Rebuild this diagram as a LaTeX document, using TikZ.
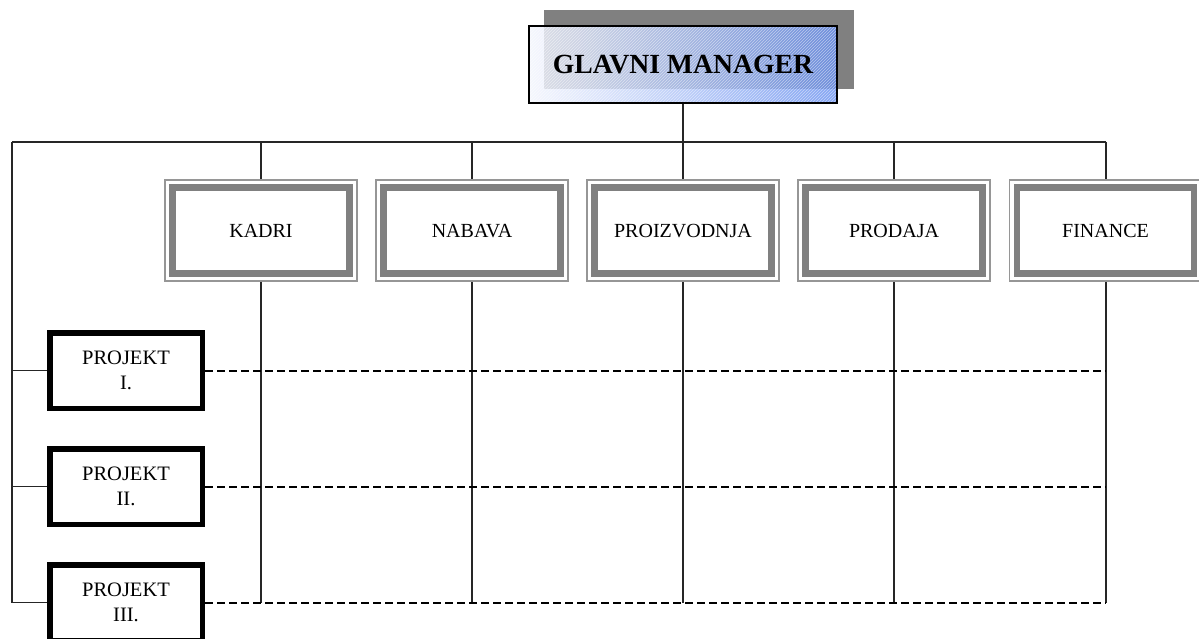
\documentclass[tikz,border=0pt]{standalone}
\usepackage{fontspec}
\setmainfont{Liberation Serif}
\usetikzlibrary{backgrounds,patterns}
\definecolor{frame}{RGB}{128,128,128}
\definecolor{frameline}{RGB}{150,150,150}
\definecolor{mgrlight}{RGB}{244,246,253}
\definecolor{mgrblue}{RGB}{104,144,240}
\definecolor{shadowgray}{RGB}{128,128,128}
\tikzset{
  x=1pt, y=-1pt,
  conn/.style={draw=black!85, line width=1.2pt},
  link/.style={draw=black, line width=2pt, dash pattern=on 8pt off 4pt},
  dept/.style={draw=frame, fill=white, line width=6.8pt, outer sep=8.4pt,
    minimum width=177pt, minimum height=86pt, inner sep=0pt,
    text height=13.2pt, text depth=0pt,
    font=\fontsize{20}{24}\selectfont},
  deptframe/.style={draw=frameline, line width=1.5pt},
  proj/.style={draw=black, fill=white, line width=5.5pt,
    minimum width=152.5pt, minimum height=75.5pt, inner sep=0pt, align=center,
    font=\fontsize{20.5}{25}\selectfont},
  boss/.style={draw=black, line width=1.4pt,
    minimum width=308pt, minimum height=77pt, inner sep=0pt,
    font=\fontsize{27.7}{32}\selectfont\bfseries},
}
\begin{document}
\begin{tikzpicture}
\useasboundingbox (0,0) rectangle (1199,639);
\clip (0,0) rectangle (1199,639);

% top manager (border and title; fill is drawn underneath)
\node[boss] (mgr) at (683,64.5) {GLAVNI MANAGER};

% departments
\node[dept] (kadri) at (261,230.5) {KADRI};
\node[dept] (nabava) at (472,230.5) {NABAVA};
\node[dept] (proiz) at (683,230.5) {PROIZVODNJA};
\node[dept] (prodaja) at (894,230.5) {PRODAJA};
\node[dept] (fin) at (1105.5,230.5) {FINANCE};

% thin outer frames of the department boxes
\foreach \d in {kadri,nabava,proiz,prodaja,fin}
  \draw[deptframe] ([shift={(0.75pt,-0.75pt)}]\d.north west)
    rectangle ([shift={(-0.75pt,0.75pt)}]\d.south east);

% projects
\node[proj] (p1) at (126,370.5) {PROJEKT\\I.};
\node[proj] (p2) at (126,486.5) {PROJEKT\\II.};
\node[proj] (p3) at (126,602.5) {PROJEKT\\III.};

% bus and row ends
\coordinate (busL) at (12,142);
\coordinate (busR) at (1106,142);

\begin{scope}[on background layer]
  % drop shadow of the manager box
  \fill[shadowgray] ([shift={(16pt,15pt)}]mgr.north west)
    rectangle ([shift={(16pt,15pt)}]mgr.south east);
  % translucent gradient fill of the manager box
  \shade[left color=mgrlight, right color=mgrblue, fill opacity=0.82]
    (mgr.north west) rectangle (mgr.south east);
  % light diagonal hatching
  \fill[pattern=north east lines, pattern color=white, opacity=0.5]
    (mgr.north west) rectangle (mgr.south east);
\end{scope}

% hierarchy connectors
\draw[conn] (mgr.south) -- (mgr.south |- busL);
\draw[conn] (busL) -- (busR);
\foreach \d in {kadri,nabava,proiz,prodaja}
  \draw[conn] (\d.north |- busL) -- (\d.north);
\draw[conn] (busR) -- (busR |- fin.north);
\foreach \d in {kadri,nabava,proiz,prodaja}
  \draw[conn] (\d.south) -- (\d.south |- p3.east);
\draw[conn] (busR |- fin.south) -- (busR |- p3.east);

% project connectors
\draw[conn] (busL) -- (busL |- p3.west);
\foreach \p in {p1,p2,p3} {
  \draw[conn] (busL |- \p.west) -- (\p.west);
  \draw[link] (\p.east) -- (\p.east -| busR);
}
\end{tikzpicture}
\end{document}
